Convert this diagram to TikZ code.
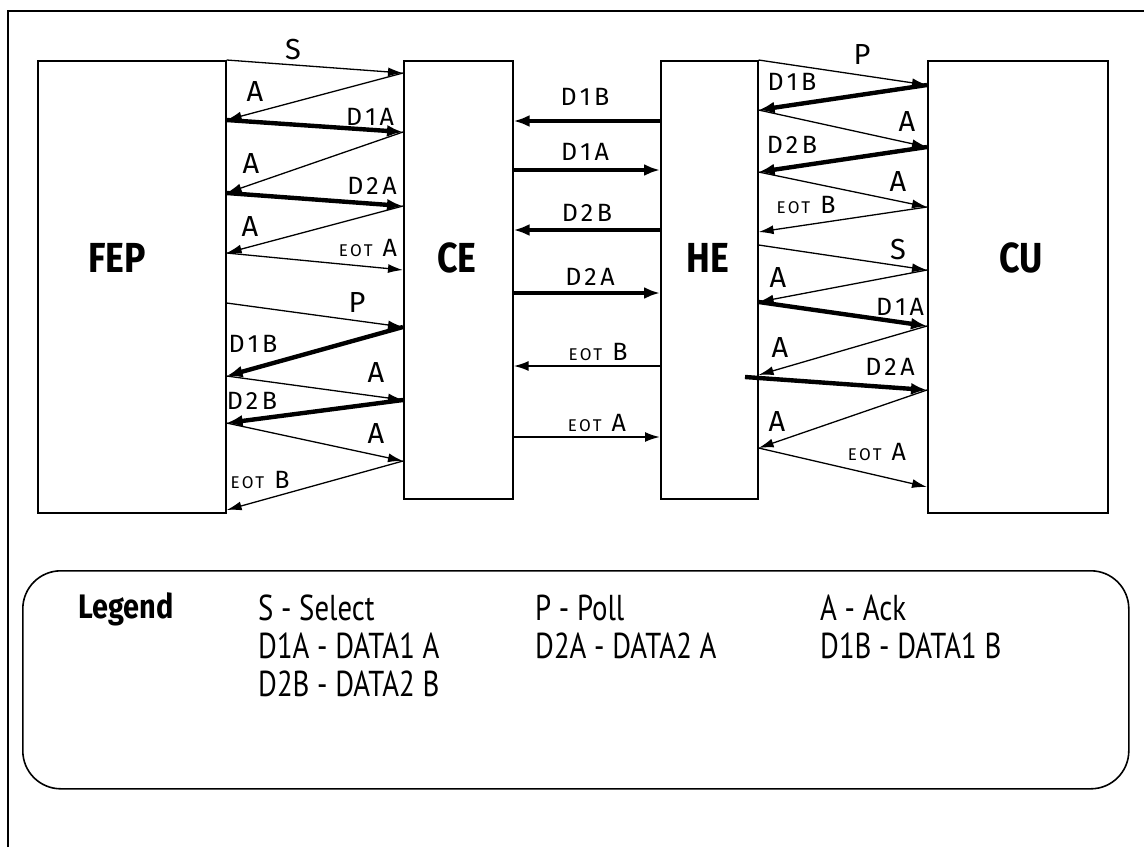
\documentclass[tikz,border=0pt]{standalone}
\usepackage{fontspec}
\setmainfont{Fira Sans}
\newfontfamily\boxfont[FakeStretch=0.85]{Fira Sans}
\newfontfamily\legfont[FakeStretch=0.8]{PT Sans}
\newfontfamily\lblfont[LetterSpace=14]{Fira Sans}
\usetikzlibrary{arrows.meta}
\begin{document}
\begin{tikzpicture}[x=1pt,y=-1pt,
  unit/.style={draw,line width=1.6pt,inner sep=0pt,anchor=north west},
  boxlbl/.style={font=\boxfont\bfseries\fontsize{42}{42}\selectfont},
  thin/.style={line width=1.3pt,-{Latex[length=15pt,width=9pt]}},
  thick/.style={line width=4.4pt,-{Latex[length=16pt,width=12pt]}},
  med/.style={line width=2pt,-{Latex[length=15pt,width=10pt]}},
  lbl/.style={font=\lblfont\fontsize{25}{25}\selectfont,inner sep=0pt},
  big/.style={font=\lblfont\fontsize{29}{29}\selectfont,inner sep=0pt},
  leg/.style={font=\legfont\fontsize{36}{36}\selectfont,anchor=base west,inner sep=0pt}]
\useasboundingbox (0,0) rectangle (1144,847);
% outer frame
\draw[line width=1.6pt] (8,847) -- (8,11) -- (1144,11);
% units
\node[unit,minimum width=188pt,minimum height=452pt] (fep) at (37,60) {};
\node[unit,minimum width=109pt,minimum height=438pt] (ce) at (403,60) {};
\node[unit,minimum width=97pt,minimum height=438pt] (he) at (660,60) {};
\node[unit,minimum width=180pt,minimum height=452pt] (cu) at (927,60) {};
\node[boxlbl] (tfep) at (117,258) {FEP};
\node[boxlbl] (tce) at (457,258) {CE};
\node[boxlbl] (the) at (708,258) {HE};
\node[boxlbl] (tcu) at (1021,258) {CU};
% end points
\foreach \y in {60,120,193,253,303,376,423,510} \coordinate (f\y) at (fep.east |- 0,\y);
\foreach \y in {73,132,206,270,327,400,461} \coordinate (c\y) at (ce.west |- 0,\y);
\foreach \y in {121,170,230,293,366,437} \coordinate (ce\y) at (ce.east |- 0,\y);
\foreach \y in {121,170,230,293,366,437} \coordinate (hw\y) at (he.west |- 0,\y);
\foreach \y in {60,110,172,232,245,302,375,448} \coordinate (h\y) at (he.east |- 0,\y);
\coordinate (h377) at (745,377);
\foreach \y in {85,147,207,270,326,390,487} \coordinate (u\y) at (cu.west |- 0,\y);
% left zigzag
\draw[thin] (f60) -- (c73);
\draw[thin] (c73) -- (f120);
\draw[thick] (f120) -- (c132);
\draw[thin] (c132) -- (f193);
\draw[thick] (f193) -- (c206);
\draw[thin] (c206) -- (f253);
\draw[thin] (f253) -- (c270);
\draw[thin] (f303) -- (c327);
\draw[thick] (c327) -- (f376);
\draw[thin] (f376) -- (c400);
\draw[thick] (c400) -- (f423);
\draw[thin] (f423) -- (c461);
\draw[thin] (c461) -- (f510);
\node[big] (ls) at (293,50) {S};
\node[big] (la1) at (255,92) {A};
\node[lbl] (ld1a) at (370,117) {D1A};
\node[big] (la2) at (251,164) {A};
\node[lbl] (ld2a) at (372,186) {D2A};
\node[big] (la3) at (250,227) {A};
\node[lbl] (leota) at (368,248) {{\fontsize{17}{17}\selectfont EOT} A};
\node[big] (lp) at (357,303) {P};
\node[lbl] (ld1b) at (253,344) {D1B};
\node[big] (la4) at (376,373) {A};
\node[lbl] (ld2b) at (252,401) {D2B};
\node[big] (la5) at (376,434) {A};
\node[lbl] (leotb) at (260,480) {{\fontsize{17}{17}\selectfont EOT} B};
% middle
\draw[thick] (hw121) -- (ce121);
\draw[thick] (ce170) -- (hw170);
\draw[thick] (hw230) -- (ce230);
\draw[thick] (ce293) -- (hw293);
\draw[med] (hw366) -- (ce366);
\draw[med] (ce437) -- (hw437);
\node[lbl] (md1b) at (585,97) {D1B};
\node[lbl] (md1a) at (585,152) {D1A};
\node[lbl] (md2b) at (587,213) {D2B};
\node[lbl] (md2a) at (590,277) {D2A};
\node[lbl] (meotb) at (598,352) {{\fontsize{17}{17}\selectfont EOT} B};
\node[lbl] (meota) at (597,423) {{\fontsize{17}{17}\selectfont EOT} A};
% right zigzag
\draw[thin] (h60) -- (u85);
\draw[thick] (u85) -- (h110);
\draw[thin] (h110) -- (u147);
\draw[thick] (u147) -- (h172);
\draw[thin] (h172) -- (u207);
\draw[thin] (u207) -- (h232);
\draw[thin] (h245) -- (u270);
\draw[thin] (u270) -- (h302);
\draw[thick] (h302) -- (u326);
\draw[thin] (u326) -- (h375);
\draw[thick] (h377) -- (u390);
\draw[thin] (u390) -- (h448);
\draw[thin] (h448) -- (u487);
\node[big] (rp) at (862,55) {P};
\node[lbl] (rd1b) at (792,82) {D1B};
\node[big] (ra1) at (907,122) {A};
\node[lbl] (rd2b) at (792,145) {D2B};
\node[big] (ra2) at (898,182) {A};
\node[lbl] (reotb) at (806,205) {{\fontsize{17}{17}\selectfont EOT} B};
\node[big] (rs) at (898,250) {S};
\node[big] (ra3) at (778,278) {A};
\node[lbl] (rd1a) at (900,307) {D1A};
\node[big] (ra4) at (780,348) {A};
\node[lbl] (rd2a) at (890,367) {D2A};
\node[big] (ra5) at (777,422) {A};
\node[lbl] (reota) at (877,452) {{\fontsize{17}{17}\selectfont EOT} A};
% legend
\node[draw,line width=1.6pt,rounded corners=38pt,minimum width=1106pt,minimum height=218pt,anchor=north west,inner sep=0pt] (legend) at (22,570) {};
\node[leg,font=\boxfont\bfseries\fontsize{34}{34}\selectfont] (lt) at (78,618) {Legend};
\node[leg] (l1) at (258,620) {S - Select};
\node[leg] (l2) at (535,620) {P - Poll};
\node[leg] (l3) at (820,620) {A - Ack};
\node[leg] (l4) at (258,658) {D1A - DATA1 A};
\node[leg] (l5) at (535,658) {D2A - DATA2 A};
\node[leg] (l6) at (820,658) {D1B - DATA1 B};
\node[leg] (l7) at (258,696) {D2B - DATA2 B};
\end{tikzpicture}
\end{document}
